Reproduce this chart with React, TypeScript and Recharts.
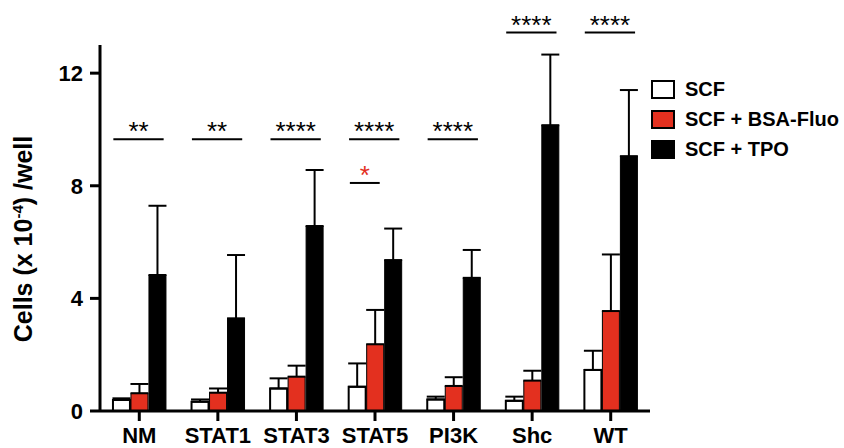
import React from 'react';
import { BarChart, Bar, XAxis, YAxis, ErrorBar, ReferenceLine, Legend } from 'recharts';

const categories = ['NM', 'STAT1', 'STAT3', 'STAT5', 'PI3K', 'Shc', 'WT'];
const scf = [0.39, 0.33, 0.8, 0.86, 0.41, 0.36, 1.46];
const scfErr = [0.06, 0.08, 0.36, 0.83, 0.1, 0.15, 0.68];
const bsa = [0.63, 0.65, 1.22, 2.37, 0.89, 1.08, 3.55];
const bsaErr = [0.33, 0.15, 0.39, 1.22, 0.31, 0.35, 2.01];
const tpo = [4.83, 3.29, 6.57, 5.36, 4.73, 10.15, 9.05];
const tpoErr = [2.46, 2.25, 1.99, 1.12, 0.99, 2.51, 2.35];
const yTicks = [0, 4, 8, 12];

const sigLabels = ['**', '**', '****', '****', '****', '****', '****'];
const sigLevels = [9.65, 9.65, 9.65, 9.65, 9.65, 13.44, 13.44];
const redSigIndex = 3;
const redSigLabel = '*';
const redSigLevel = 8.1;

const seriesNames = ['SCF', 'SCF + BSA-Fluo', 'SCF + TPO'];
const RED = '#E3301F';
const FONT = '"Liberation Sans", Arial, sans-serif';

const data = categories.map((c, i) => ({
  name: c,
  idx: i,
  scf: scf[i],
  scfErr: [0, scfErr[i]],
  bsa: bsa[i],
  bsaErr: [0, bsaErr[i]],
  tpo: tpo[i],
  tpoErr: [0, tpoErr[i]],
}));

const legendColors = ['#FFFFFF', RED, '#000000'];

const LegendContent = () => (
  <div style={{ fontFamily: FONT }}>
    {seriesNames.map((n, i) => (
      <div key={n} style={{ display: 'flex', alignItems: 'center', height: 29.67 }}>
        <div
          style={{
            width: 20,
            height: 15,
            background: legendColors[i],
            border: '2px solid #000',
            marginRight: 10,
            flex: 'none',
          }}
        />
        <span style={{ fontSize: 20, fontWeight: 700, color: '#000', whiteSpace: 'nowrap' }}>{n}</span>
      </div>
    ))}
  </div>
);

const YLabel = () => (
  <text
    x={32}
    y={239}
    transform="rotate(-90 32 239)"
    textAnchor="middle"
    fontFamily={FONT}
    fontSize={25}
    fontWeight={700}
    fill="#000"
  >
    Cells (x 10
    <tspan dy={-9} fontSize={15}>-4</tspan>
    <tspan dy={9}>) /well</tspan>
  </text>
);

export default function App() {
  return (
    <div style={{ position: 'absolute', left: 0, top: 0, width: 844, height: 448, background: '#fff' }}>
      <BarChart
        width={844}
        height={448}
        data={data}
        margin={{ top: 45, right: 194, bottom: 0, left: 0 }}
        barCategoryGap="16.5%"
        barGap={1}
      >
        <XAxis
          dataKey="name"
          height={37}
          axisLine={{ stroke: '#000', strokeWidth: 3 }}
          tickLine={{ stroke: '#000', strokeWidth: 3 }}
          tickSize={10}
          tickMargin={6}
          tick={{ fill: '#000', fontSize: 22, fontWeight: 700, fontFamily: FONT }}
          interval={0}
        />
        <XAxis xAxisId="n" dataKey="idx" type="number" domain={[0, 7]} allowDataOverflow hide />
        <YAxis
          width={100}
          domain={[0, 13]}
          ticks={yTicks}
          axisLine={{ stroke: '#000', strokeWidth: 3 }}
          tickLine={{ stroke: '#000', strokeWidth: 3 }}
          tickSize={10}
          tickMargin={7}
          tick={{ fill: '#000', fontSize: 22, fontWeight: 700, fontFamily: FONT }}
          label={{ content: () => <YLabel /> }}
        />
        <Legend
          layout="vertical"
          align="center"
          verticalAlign="middle"
          wrapperStyle={{ left: 651, top: 75, width: 190 }}
          content={() => <LegendContent />}
        />
        <Bar dataKey="scf" name={seriesNames[0]} fill="#FFFFFF" stroke="#000" strokeWidth={2} isAnimationActive={false}>
          <ErrorBar dataKey="scfErr" width={9} strokeWidth={2} stroke="#000" direction="y" />
        </Bar>
        <Bar dataKey="bsa" name={seriesNames[1]} fill={RED} stroke="#000" strokeWidth={1} isAnimationActive={false}>
          <ErrorBar dataKey="bsaErr" width={9} strokeWidth={2} stroke="#000" direction="y" />
        </Bar>
        <Bar dataKey="tpo" name={seriesNames[2]} fill="#000" stroke="#000" strokeWidth={1} isAnimationActive={false}>
          <ErrorBar dataKey="tpoErr" width={9} strokeWidth={2} stroke="#000" direction="y" />
        </Bar>
        {categories.map((c, i) => (
          <ReferenceLine
            key={'sig' + c}
            xAxisId="n"
            segment={[
              { x: i + 0.17, y: sigLevels[i] },
              { x: i + 0.81, y: sigLevels[i] },
            ]}
            stroke="#000"
            strokeWidth={2}
            ifOverflow="visible"
            label={{ value: sigLabels[i], position: 'top', offset: -1, fill: '#000', fontSize: 26, fontFamily: FONT }}
          />
        ))}
        <ReferenceLine
          xAxisId="n"
          segment={[
            { x: redSigIndex + 0.18, y: redSigLevel },
            { x: redSigIndex + 0.56, y: redSigLevel },
          ]}
          stroke="#000"
          strokeWidth={2}
          ifOverflow="visible"
          label={{ value: redSigLabel, position: 'top', offset: -1, fill: RED, fontSize: 26, fontFamily: FONT }}
        />
      </BarChart>
    </div>
  );
}
